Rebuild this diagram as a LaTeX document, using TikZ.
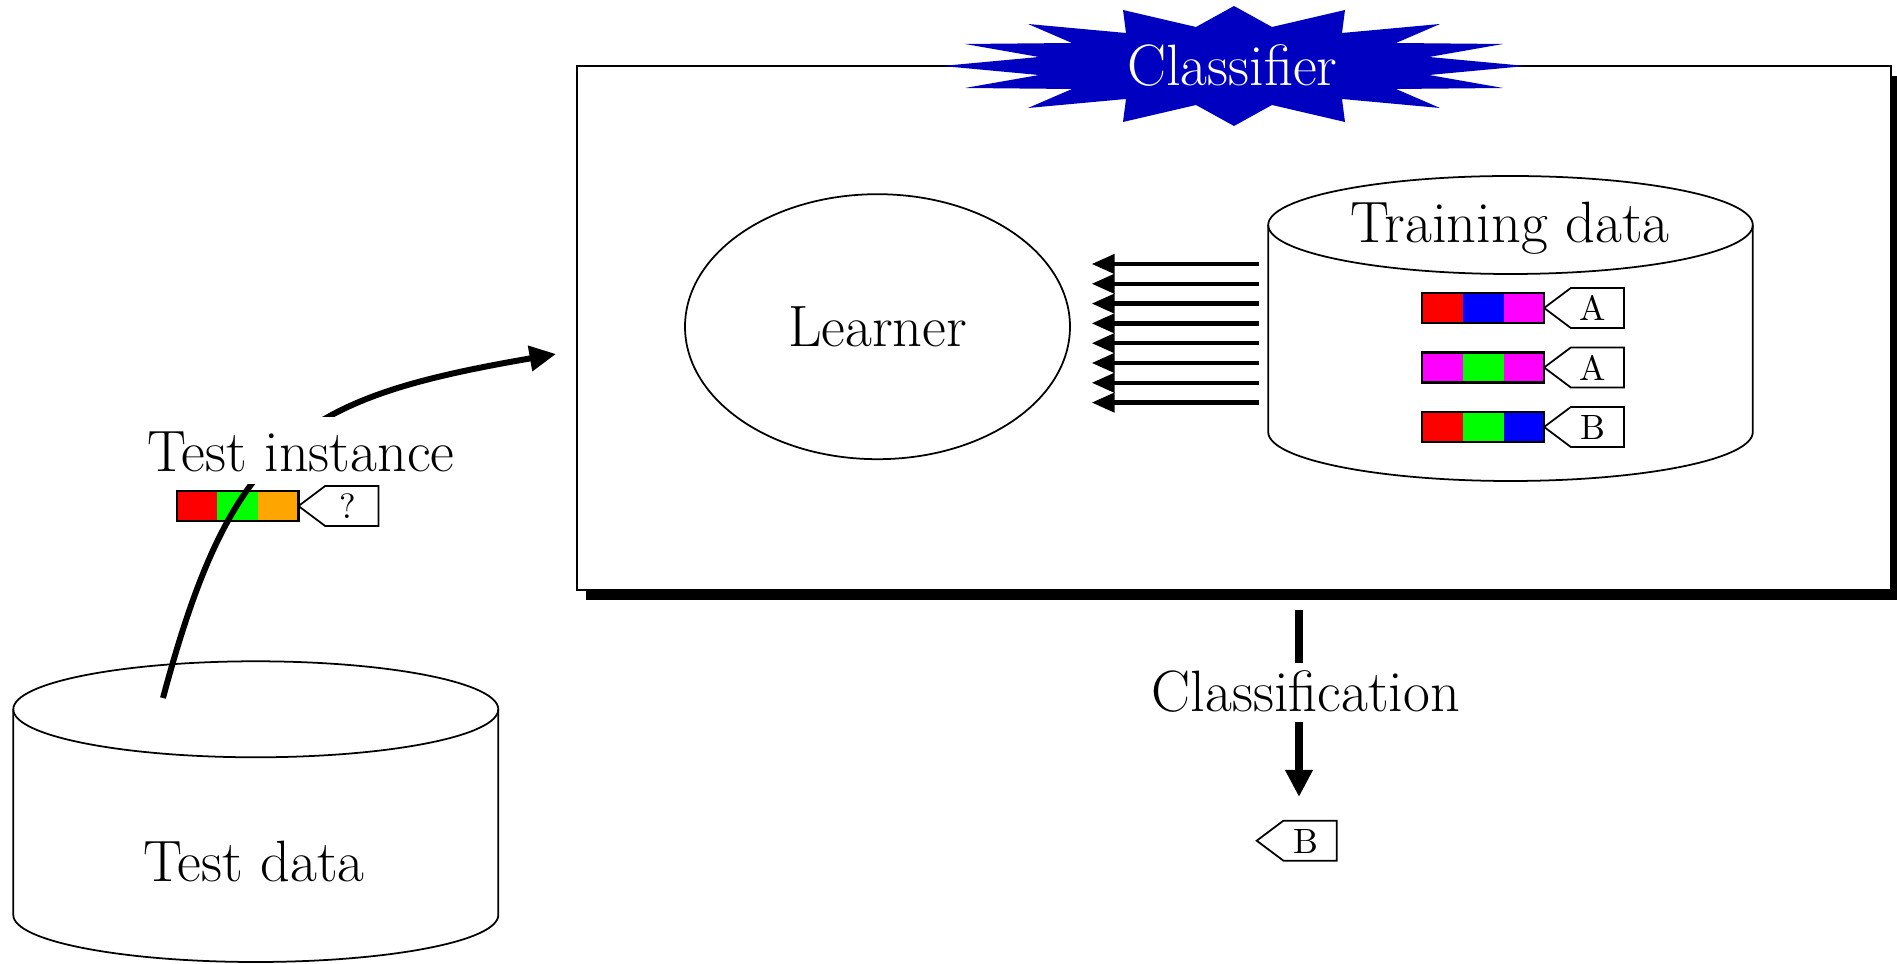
\documentclass[tikz,border=0pt]{standalone}
\usepackage{fontspec}
\usetikzlibrary{arrows.meta,shapes.geometric,shadows,calc}

\definecolor{starblue}{RGB}{0,0,192}
\definecolor{featorange}{RGB}{255,165,0}
\definecolor{featmagenta}{RGB}{255,0,255}
\definecolor{featgreen}{RGB}{0,255,0}
\definecolor{featred}{RGB}{255,0,0}
\definecolor{featblue}{RGB}{0,0,255}

\newcommand{\biglabelfont}{\fontsize{16.6}{19}\selectfont}
\newcommand{\tagfont}{\fontsize{10}{11}\selectfont}

% feature bar: left middle point, three cell colours
\newcommand{\featbar}[4]{%
  \fill[#2] (#1) ++(0,-15) rectangle ++(40.6,30);
  \fill[#3] (#1) ++(40.6,-15) rectangle ++(40.6,30);
  \fill[#4] (#1) ++(81.2,-15) rectangle ++(40.6,30);
  \draw[line width=0.6pt] (#1) ++(0,-15) rectangle ++(121.8,30);}

% class tag: tip point, node name, letter
\newcommand{\classtag}[3]{%
  \draw[fill=white,line width=0.5pt] (#1) -- ++(26.7,-20) -- ++(53.3,0) -- ++(0,40) -- ++(-53.3,0) -- cycle;
  \node[tagletter] (#2) at ($(#1)+(49,13)$) {#3};}

\begin{document}
\begin{tikzpicture}[x=0.1mm,y=-0.1mm,
  biglabel/.style={font=\biglabelfont,inner sep=0pt},
  tagletter/.style={font=\tagfont,anchor=base,inner sep=0pt},
  outline/.style={line width=0.5pt},
  feed/.style={line width=1.2pt,-{Triangle[length=6.5pt,width=5.4pt]}},
  query/.style={line width=1.7pt,-{Triangle[length=7.5pt,width=7pt]}},
  result/.style={line width=2pt},
  cutout/.style={biglabel,fill=white,anchor=base,text depth=0pt}]
\useasboundingbox (0,0) rectangle (1897,964);

% classifier box with its shadow
\node[draw,fill=white,line width=0.5pt,inner sep=0pt,outer sep=0pt,
  minimum width=131.4mm,minimum height=52.4mm,
  general shadow={fill=black,shadow xshift=0.9mm,shadow yshift=-1mm}]
  (classifier) at (1234,328) {};

% star
\fill[starblue,shift={(1234,66)}] (0,-60) -- (38,-39) -- (111,-56) -- (108,-33) -- (206,-42)
  -- (162,-23) -- (269,-22) -- (195,-9) -- (292,0) -- (195,9) -- (269,22) -- (162,23)
  -- (206,42) -- (108,33) -- (111,56) -- (38,39) -- (0,60) -- (-38,39) -- (-111,56)
  -- (-108,33) -- (-206,42) -- (-162,23) -- (-269,22) -- (-195,9) -- (-292,0)
  -- (-195,-9) -- (-269,-22) -- (-162,-23) -- (-206,-42) -- (-108,-33) -- (-111,-56)
  -- (-38,-39) -- cycle;
\node[biglabel,text=white,anchor=base] (clf) at (1232.5,86) {Classifier};

% learner
\node[ellipse,draw,outline,inner sep=0pt,minimum width=38.5mm,minimum height=26.5mm,
  font=\biglabelfont] (learner) at (877.5,326.7) {Learner};

% training data
\draw[outline] (1268.2,225) -- (1268.2,432) arc[start angle=180,end angle=0,x radius=242.3,y radius=49] -- (1752.8,225);
\draw[outline] (1510.5,225) ellipse [x radius=242.3,y radius=49];
\node[biglabel,anchor=base] (trlabel) at (1510,242.7) {Training data};

\coordinate (bar1) at (1422.3,308);
\coordinate (bar2) at (1422.3,367.5);
\coordinate (bar3) at (1422.3,427);
\featbar{bar1}{featred}{featblue}{featmagenta}
\featbar{bar2}{featmagenta}{featgreen}{featmagenta}
\featbar{bar3}{featred}{featgreen}{featblue}
\classtag{$(bar1)+(121.8,0)$}{tag1}{A}
\classtag{$(bar2)+(121.8,0)$}{tag2}{A}
\classtag{$(bar3)+(121.8,0)$}{tag3}{B}

\coordinate (feedR) at (1259,264);
\foreach \k in {0,...,7}
  \draw[feed] (feedR) ++(0,19.8*\k) -- ++(-167.3,0);

% test data
\draw[outline] (13.3,709.3) -- (13.3,915) arc[start angle=180,end angle=0,x radius=242.5,y radius=47] -- (498.3,709.3);
\draw[outline] (255.8,709.3) ellipse [x radius=242.5,y radius=48];
\node[biglabel,anchor=base] (tdlabel) at (254,881.7) {Test data};

% test instance
\coordinate (qbar) at (176.7,506);
\featbar{qbar}{featred}{featgreen}{featorange}
\classtag{$(qbar)+(121.8,0)$}{qtag}{?}

\coordinate (tdq) at (163,698);
\coordinate (qin) at (556,354);
\draw[query] (tdq) .. controls (232,440) and (300,398) .. (qin);
\node[cutout,text height=12pt,inner ysep=3.5pt] (qlabel) at (300.8,471.7) {Test instance};

% classification
\coordinate (clsfrom) at (1299,610);
\coordinate (clsto) at (1299,797);
\node[cutout,text height=11pt,inner ysep=2.7pt] (clslabel) at (1306,711.7) {Classification};
\draw[result] (clsfrom) -- (clsfrom |- clslabel.north);
\draw[result,-{Triangle[length=7.7pt,width=7.4pt]}] (clslabel.south -| clsto) -- (clsto);
\classtag{1256.7,840.7}{outtag}{B}
\end{tikzpicture}
\end{document}
